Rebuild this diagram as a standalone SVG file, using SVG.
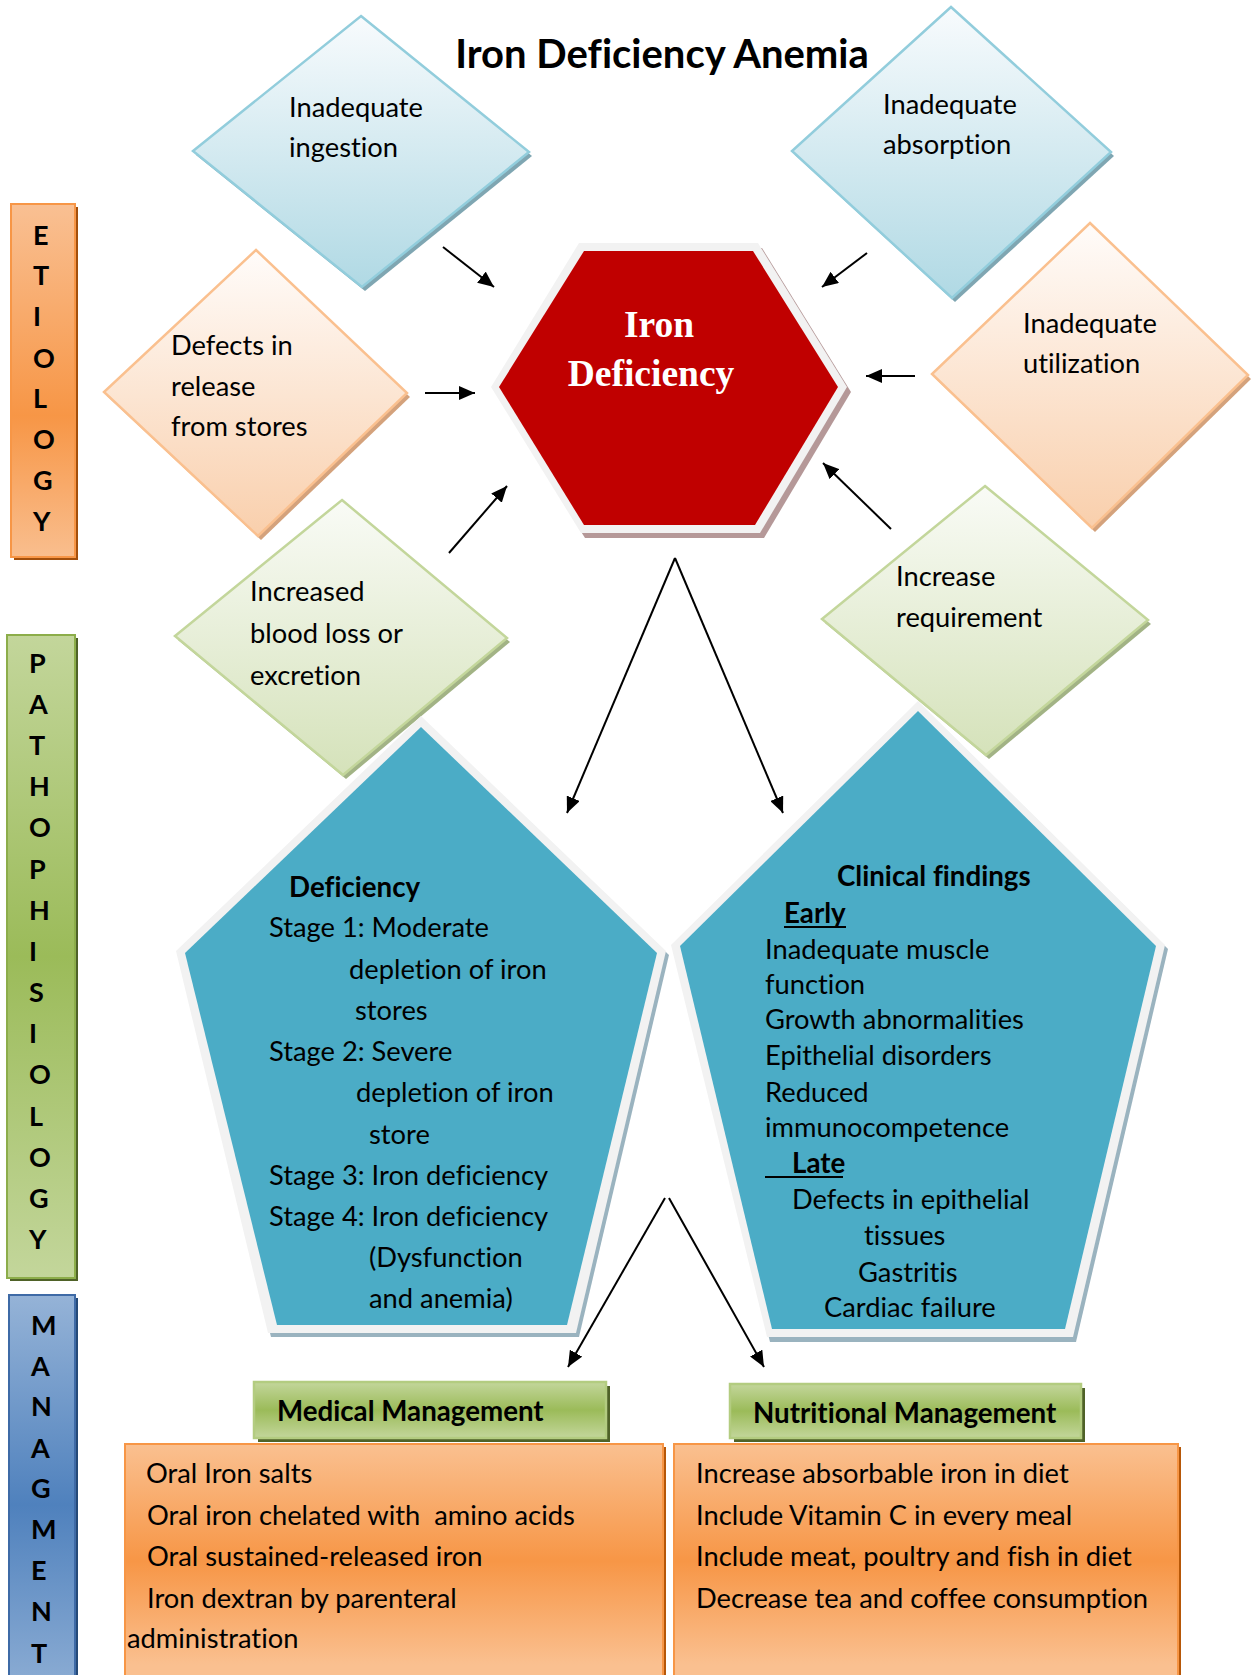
<svg xmlns="http://www.w3.org/2000/svg" width="1256" height="1675" viewBox="0 0 1256 1675">
<defs>
<linearGradient id="gBlue" x1="0" y1="0" x2="0" y2="1"><stop offset="0" stop-color="#f8fbfd"/><stop offset="1" stop-color="#b0d9e4"/></linearGradient>
<linearGradient id="gOrange" x1="0" y1="0" x2="0" y2="1"><stop offset="0" stop-color="#fffcfa"/><stop offset="1" stop-color="#f9cfac"/></linearGradient>
<linearGradient id="gGreen" x1="0" y1="0" x2="0" y2="1"><stop offset="0" stop-color="#f9fbf6"/><stop offset="1" stop-color="#d5e2ba"/></linearGradient>
<linearGradient id="gSideO" x1="0" y1="0" x2="0" y2="1"><stop offset="0" stop-color="#f9c093"/><stop offset="0.6" stop-color="#f79646"/><stop offset="1" stop-color="#f9be8e"/></linearGradient>
<linearGradient id="gSideG" x1="0" y1="0" x2="0" y2="1"><stop offset="0" stop-color="#c3d69b"/><stop offset="0.5" stop-color="#9bbb59"/><stop offset="1" stop-color="#c3d69b"/></linearGradient>
<linearGradient id="gSideB" x1="0" y1="0" x2="0" y2="1"><stop offset="0" stop-color="#95b3d7"/><stop offset="0.5" stop-color="#4f81bd"/><stop offset="1" stop-color="#95b3d7"/></linearGradient>
<linearGradient id="gHead" x1="0" y1="0" x2="0" y2="1"><stop offset="0" stop-color="#c3d69b"/><stop offset="0.5" stop-color="#9bbb59"/><stop offset="1" stop-color="#c3d69b"/></linearGradient>
<linearGradient id="gList" x1="0" y1="0" x2="0" y2="1"><stop offset="0" stop-color="#fac090"/><stop offset="0.45" stop-color="#f79646"/><stop offset="0.85" stop-color="#fac090"/><stop offset="1" stop-color="#fac090"/></linearGradient>
<marker id="ah" markerUnits="userSpaceOnUse" markerWidth="18" markerHeight="14" refX="16" refY="7" orient="auto"><path d="M0,0 L16,7 L0,14 z" fill="#000"/></marker>
<style>
text{font-variant-ligatures:none}
.t{font-family:Lato,"Liberation Sans",sans-serif;font-size:27.3px;fill:#000}
.b{font-family:Lato,"Liberation Sans",sans-serif;font-size:27.7px;font-weight:bold;fill:#000}
.side{font-family:Lato,"Liberation Sans",sans-serif;font-size:27px;font-weight:bold;fill:#000}
.title{font-family:Lato,"Liberation Sans",sans-serif;font-size:40px;font-weight:bold;fill:#000}
.hex{font-family:"Liberation Serif","Times New Roman",serif;font-size:37.5px;font-weight:bold;fill:#fff}
.dB{fill:url(#gBlue);stroke:#92cddc;stroke-width:2.5}
.dO{fill:url(#gOrange);stroke:#fac08f;stroke-width:2.5}
.dG{fill:url(#gGreen);stroke:#c3d69b;stroke-width:2.5}
.shB{fill:#7fa6b2}
.shO{fill:#d4a27c}
.shG{fill:#a2b385}
.pent{fill:#4bacc6}
.rim{fill:#f2f2f2}
.conn line{stroke:#000;stroke-width:2;marker-end:url(#ah)}
</style>
</defs>
<rect width="1256" height="1675" fill="#fff"/>

<text class="title" x="662" y="68" text-anchor="middle">Iron Deficiency Anemia</text>

<g id="side-etiology">
<rect x="14" y="207" width="64" height="353" fill="#a24f0c"/>
<rect x="11" y="204" width="64" height="353" fill="url(#gSideO)" stroke="#f79646" stroke-width="2"/>
<text class="side" x="33" y="245">E</text><text class="side" x="33" y="285">T</text><text class="side" x="33" y="326">I</text><text class="side" x="33" y="368">O</text><text class="side" x="33" y="408">L</text><text class="side" x="33" y="449">O</text><text class="side" x="33" y="490">G</text><text class="side" x="33" y="531">Y</text>
</g>

<g id="side-pathophysiology">
<rect x="10" y="638" width="68" height="643" fill="#4f6228"/>
<rect x="7" y="635" width="68" height="643" fill="url(#gSideG)" stroke="#8cad4a" stroke-width="2"/>
<text class="side" x="29" y="673">P</text><text class="side" x="29" y="714">A</text><text class="side" x="29" y="755">T</text><text class="side" x="29" y="796">H</text><text class="side" x="29" y="837">O</text><text class="side" x="29" y="879">P</text><text class="side" x="29" y="920">H</text><text class="side" x="29" y="961">I</text><text class="side" x="29" y="1002">S</text><text class="side" x="29" y="1043">I</text><text class="side" x="29" y="1084">O</text><text class="side" x="29" y="1126">L</text><text class="side" x="29" y="1167">O</text><text class="side" x="29" y="1208">G</text><text class="side" x="29" y="1249">Y</text>
</g>

<g id="side-management">
<rect x="12" y="1298" width="66" height="420" fill="#254a78"/>
<rect x="9" y="1295" width="66" height="420" fill="url(#gSideB)" stroke="#3e6aa6" stroke-width="2"/>
<text class="side" x="31" y="1335">M</text><text class="side" x="31" y="1376">A</text><text class="side" x="31" y="1416">N</text><text class="side" x="31" y="1458">A</text><text class="side" x="31" y="1498">G</text><text class="side" x="31" y="1539">M</text><text class="side" x="31" y="1580">E</text><text class="side" x="31" y="1621">N</text><text class="side" x="31" y="1663">T</text>
</g>

<g id="d-ingestion">
<polygon class="shB" points="364,20 532,156 365,291 196,155"/>
<polygon class="dB" points="361,16 529,152 362,287 193,151"/>
<text class="t" x="289" y="117">Inadequate</text>
<text class="t" x="289" y="157">ingestion</text>
</g>

<g id="d-absorption">
<polygon class="shB" points="954,11 1114,156 955,302 795,155"/>
<polygon class="dB" points="951,7 1111,152 952,298 792,151"/>
<text class="t" x="883" y="114">Inadequate</text>
<text class="t" x="883" y="154">absorption</text>
</g>

<g id="d-release">
<polygon class="shO" points="259,254 410,397 261,540 107,396"/>
<polygon class="dO" points="256,250 407,393 258,536 104,392"/>
<text class="t" x="171" y="355">Defects in</text>
<text class="t" x="171" y="396">release</text>
<text class="t" x="171" y="436">from stores</text>
</g>

<g id="d-utilization">
<polygon class="shO" points="1093,227 1251,379 1095,532 935,378"/>
<polygon class="dO" points="1090,223 1248,375 1092,528 932,374"/>
<text class="t" x="1023" y="333">Inadequate</text>
<text class="t" x="1023" y="373">utilization</text>
</g>

<g id="d-bloodloss">
<polygon class="shG" points="345,504 510,642 346,779 178,640"/>
<polygon class="dG" points="342,500 507,638 343,775 175,636"/>
<text class="t" x="250" y="601">Increased</text>
<text class="t" x="250" y="643">blood loss or</text>
<text class="t" x="250" y="685">excretion</text>
</g>

<g id="d-requirement">
<polygon class="shG" points="988,490 1151,624 989,759 825,623"/>
<polygon class="dG" points="985,486 1148,620 986,755 822,619"/>
<text class="t" x="896" y="586">Increase</text>
<text class="t" x="896" y="627">requirement</text>
</g>

<g id="hex-iron-deficiency">
<polygon fill="#b59898" points="583,248 762,248 851,392 764,538 585,538 495,392"/>
<polygon class="rim" points="579,243 758,243 847,387 760,533 581,533 491,387"/>
<polygon fill="#c00000" points="584,251 753,251 838,387 755,525 584,525 499,387"/>
<text class="hex" x="659" y="337" text-anchor="middle">Iron</text>
<text class="hex" x="651" y="386" text-anchor="middle">Deficiency</text>
</g>

<g id="pent-deficiency">
<polygon fill="#9ab3bf" points="424,720 669,955 579,1337 271,1337 179,955"/>
<polygon class="rim" points="421,716 666,951 576,1333 268,1333 176,951"/>
<polygon class="pent" points="421,727 657,953 567,1325 277,1325 185,953"/>
<text class="b" x="289" y="897">Deficiency</text>
<text class="t" x="269" y="937">Stage 1: Moderate</text>
<text class="t" x="349" y="979">depletion of iron</text>
<text class="t" x="355" y="1020">stores</text>
<text class="t" x="269" y="1061">Stage 2: Severe</text>
<text class="t" x="356" y="1102">depletion of iron</text>
<text class="t" x="369" y="1144">store</text>
<text class="t" x="269" y="1185">Stage 3: Iron deficiency</text>
<text class="t" x="269" y="1226">Stage 4: Iron deficiency</text>
<text class="t" x="369" y="1267">(Dysfunction</text>
<text class="t" x="369" y="1308">and anemia)</text>
</g>

<g id="pent-clinical">
<polygon fill="#9ab3bf" points="921,705 1168,949 1076,1342 770,1342 674,949"/>
<polygon class="rim" points="918,701 1165,945 1073,1337 767,1337 671,945"/>
<polygon class="pent" points="918,711 1156,946 1065,1329 772,1329 680,946"/>
<text class="b" x="837" y="886">Clinical findings</text>
<text class="b" x="784" y="923">Early</text>
<line x1="784" y1="927" x2="846" y2="927" stroke="#000" stroke-width="2"/>
<text class="t" x="765" y="959">Inadequate muscle</text>
<text class="t" x="765" y="994">function</text>
<text class="t" x="765" y="1029">Growth abnormalities</text>
<text class="t" x="765" y="1065">Epithelial disorders</text>
<text class="t" x="765" y="1102">Reduced</text>
<text class="t" x="765" y="1137">immunocompetence</text>
<text class="b" x="792" y="1173">Late</text>
<line x1="765" y1="1177" x2="843" y2="1177" stroke="#000" stroke-width="2"/>
<text class="t" x="792" y="1209">Defects in epithelial</text>
<text class="t" x="864" y="1245">tissues</text>
<text class="t" x="858" y="1282">Gastritis</text>
<text class="t" x="824" y="1317">Cardiac failure</text>
</g>

<g id="medical-header">
<rect x="258" y="1386" width="352" height="56" fill="#4f6228"/>
<rect x="254" y="1382" width="352" height="56" fill="url(#gHead)" stroke="#b3cc80" stroke-width="2.5"/>
<text class="b" x="277" y="1421">Medical Management</text>
</g>

<g id="nutritional-header">
<rect x="734" y="1388" width="351" height="54" fill="#4f6228"/>
<rect x="730" y="1384" width="351" height="54" fill="url(#gHead)" stroke="#b3cc80" stroke-width="2.5"/>
<text class="b" x="753" y="1423">Nutritional Management</text>
</g>

<g id="medical-list">
<rect x="128" y="1447" width="538" height="260" fill="#b65708"/>
<rect x="125" y="1444" width="538" height="260" fill="url(#gList)" stroke="#f79646" stroke-width="2"/>
<text class="t" x="146" y="1483">Oral Iron salts</text>
<text class="t" x="147" y="1525" xml:space="preserve">Oral iron chelated with  amino acids</text>
<text class="t" x="147" y="1566">Oral sustained-released iron</text>
<text class="t" x="147" y="1608">Iron dextran by parenteral</text>
<text class="t" x="127" y="1648">administration</text>
</g>

<g id="nutritional-list">
<rect x="677" y="1447" width="504" height="260" fill="#b65708"/>
<rect x="674" y="1444" width="504" height="260" fill="url(#gList)" stroke="#f79646" stroke-width="2"/>
<text class="t" x="696" y="1483">Increase absorbable iron in diet</text>
<text class="t" x="696" y="1525">Include Vitamin C in every meal</text>
<text class="t" x="696" y="1566">Include meat, poultry and fish in diet</text>
<text class="t" x="696" y="1608">Decrease tea and coffee consumption</text>
</g>

<g id="connectors" class="conn">
<line x1="443" y1="247" x2="494" y2="287"/>
<line x1="867" y1="253" x2="822" y2="287"/>
<line x1="425" y1="393" x2="475" y2="393"/>
<line x1="915" y1="376" x2="866" y2="376"/>
<line x1="449" y1="553" x2="507" y2="486"/>
<line x1="891" y1="529" x2="823" y2="463"/>
<line x1="675" y1="558" x2="567" y2="813"/>
<line x1="675" y1="558" x2="783" y2="813"/>
<line x1="665" y1="1198" x2="568" y2="1367"/>
<line x1="669" y1="1198" x2="764" y2="1367"/>
</g>
</svg>
